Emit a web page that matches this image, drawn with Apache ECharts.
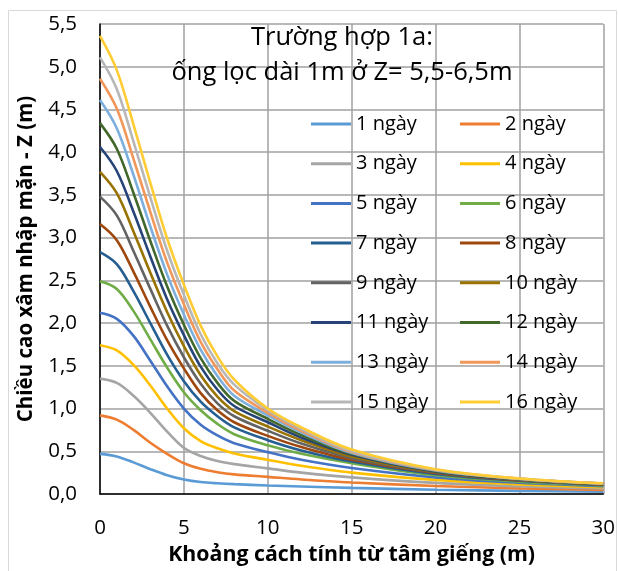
<!DOCTYPE html>
<html>
<head>
<meta charset="utf-8">
<script src="https://cdn.jsdelivr.net/npm/echarts@6/dist/echarts.min.js"></script>
<style>
html,body{margin:0;padding:0;background:#fff;}
#c{width:618px;height:571px;}
</style>
</head>
<body>
<div id="c"></div>
<script>
// ---- data ----
const distances = [0, 1, 2, 3, 4, 5, 6, 7, 8, 10, 12, 15, 20, 25, 30];
const seriesNames = ["1 ngày","2 ngày","3 ngày","4 ngày","5 ngày","6 ngày","7 ngày","8 ngày",
  "9 ngày","10 ngày","11 ngày","12 ngày","13 ngày","14 ngày","15 ngày","16 ngày"];
const day1  = [0.47,0.44,0.37,0.29,0.22,0.17,0.14,0.125,0.115,0.10,0.088,0.072,0.05,0.036,0.026];
const day2  = [0.92,0.87,0.75,0.60,0.47,0.36,0.295,0.255,0.23,0.20,0.17,0.135,0.094,0.066,0.047];
const day3  = [1.35,1.30,1.15,0.95,0.73,0.54,0.445,0.385,0.35,0.30,0.25,0.195,0.13,0.09,0.065];
const day4  = [1.74,1.68,1.51,1.27,1.00,0.77,0.62,0.535,0.475,0.40,0.33,0.25,0.165,0.113,0.08];
const day5  = [2.12,2.05,1.85,1.56,1.26,1.00,0.81,0.685,0.595,0.49,0.40,0.305,0.195,0.132,0.092];
const day6  = [2.49,2.40,2.14,1.81,1.48,1.19,0.98,0.82,0.70,0.57,0.47,0.36,0.22,0.145,0.10];
const day7  = [2.83,2.69,2.37,2.00,1.63,1.32,1.08,0.91,0.78,0.63,0.51,0.38,0.235,0.155,0.105];
const day8  = [3.16,2.97,2.60,2.19,1.80,1.47,1.18,0.98,0.84,0.68,0.55,0.40,0.245,0.16,0.11];
const day9  = [3.48,3.26,2.84,2.40,1.97,1.60,1.29,1.06,0.91,0.74,0.59,0.42,0.255,0.165,0.113];
const day10 = [3.77,3.52,3.07,2.59,2.13,1.73,1.39,1.14,0.97,0.79,0.63,0.44,0.26,0.17,0.115];
const day11 = [4.06,3.78,3.30,2.78,2.28,1.86,1.49,1.22,1.03,0.84,0.66,0.46,0.265,0.172,0.117];
const day12 = [4.34,4.04,3.52,2.96,2.43,1.98,1.59,1.30,1.09,0.88,0.69,0.47,0.27,0.174,0.119];
const day13 = [4.61,4.28,3.73,3.13,2.57,2.10,1.69,1.38,1.15,0.92,0.72,0.48,0.275,0.176,0.121];
const day14 = [4.86,4.51,3.92,3.30,2.71,2.22,1.78,1.46,1.21,0.95,0.74,0.49,0.28,0.178,0.122];
const day15 = [5.11,4.74,4.12,3.47,2.85,2.33,1.87,1.53,1.28,0.98,0.76,0.50,0.285,0.18,0.123];
const day16 = [5.36,4.96,4.32,3.64,2.99,2.45,1.97,1.61,1.34,1.00,0.78,0.52,0.29,0.182,0.125];
const allDays = [day1,day2,day3,day4,day5,day6,day7,day8,day9,day10,day11,day12,day13,day14,day15,day16];
const titleLines = ["Trường hợp 1a:", "ống lọc dài 1m ở Z= 5,5-6,5m"];
const xTitle = "Khoảng cách tính từ tâm giếng (m)";
const yTitle = "Chiều cao xâm nhập mặn - Z (m)";

// ---- styles ----
const colors = ["#5B9BD5","#ED7D31","#A5A5A5","#FFC000","#4472C4","#70AD47","#255E91","#9E480E",
  "#636363","#997300","#264478","#43682B","#7CAFDD","#F1975A","#B7B7B7","#FFCD33"];
const FONT = "'Open Sans', 'Noto Sans', sans-serif";

const series = allDays.map((vals, i) => ({
  name: seriesNames[i],
  type: 'line',
  data: distances.map((d, j) => [d, vals[j]]),
  showSymbol: false,
  smooth: 0.35,
  lineStyle: { width: 2.6, color: colors[i] },
  itemStyle: { color: colors[i] },
  z: 3 + i
}));

const legendBase = {
  orient: 'vertical',
  top: 114,
  itemWidth: 40,
  itemHeight: 3,
  icon: 'rect',
  itemGap: 19.7,
  padding: 0,
  textStyle: { fontSize: 20, fontFamily: FONT, color: '#000', lineHeight: 20 }
};

const chart = echarts.init(document.getElementById('c'), null, { renderer: 'canvas' });
chart.setOption({
  backgroundColor: '#fff',
  animation: false,
  color: colors,
  grid: { left: 100, top: 24, width: 504, height: 470, containLabel: false },
  xAxis: {
    type: 'value', min: 0, max: 30, interval: 5,
    name: xTitle, nameLocation: 'middle', nameGap: 50,
    nameTextStyle: { fontSize: 21.3, fontWeight: 'bold', fontFamily: FONT, color: '#000' },
    axisLine: { show: true, lineStyle: { color: '#000', width: 1.5 } },
    axisTick: { show: false },
    axisLabel: { fontSize: 20.5, fontFamily: FONT, color: '#000', margin: 24 },
    splitLine: { show: true, lineStyle: { color: '#a0a0a0', width: 1.5 } }
  },
  yAxis: {
    type: 'value', min: 0, max: 5.5, interval: 0.5,
    name: yTitle, nameLocation: 'middle', nameGap: 63,
    nameTextStyle: { fontSize: 20.5, fontWeight: 'bold', fontFamily: FONT, color: '#000' },
    axisLine: { show: true, lineStyle: { color: '#000', width: 1.5 } },
    axisTick: { show: false },
    axisLabel: { fontSize: 20.5, fontFamily: FONT, color: '#000', margin: 23,
      formatter: v => v.toFixed(1).replace('.', ',') },
    splitLine: { show: true, lineStyle: { color: '#a0a0a0', width: 1.5 } }
  },
  legend: [
    Object.assign({}, legendBase, { left: 311, data: seriesNames.filter((_, i) => i % 2 === 0) }),
    Object.assign({}, legendBase, { left: 460, data: seriesNames.filter((_, i) => i % 2 === 1) })
  ],
  graphic: [
    { type: 'rect', left: 6, top: 8, z: -10, silent: true,
      shape: { width: 608, height: 570 },
      style: { fill: 'none', stroke: '#d9d9d9', lineWidth: 1 } },
    { type: 'text', x: 342, y: 38, z: 10,
      style: { text: titleLines[0], textAlign: 'center', textVerticalAlign: 'middle',
        font: '25.5px ' + FONT, fill: '#000' } },
    { type: 'text', x: 342, y: 73, z: 10,
      style: { text: titleLines[1], textAlign: 'center', textVerticalAlign: 'middle',
        font: '25.5px ' + FONT, fill: '#000' } }
  ],
  series: series
});
</script>
</body>
</html>
